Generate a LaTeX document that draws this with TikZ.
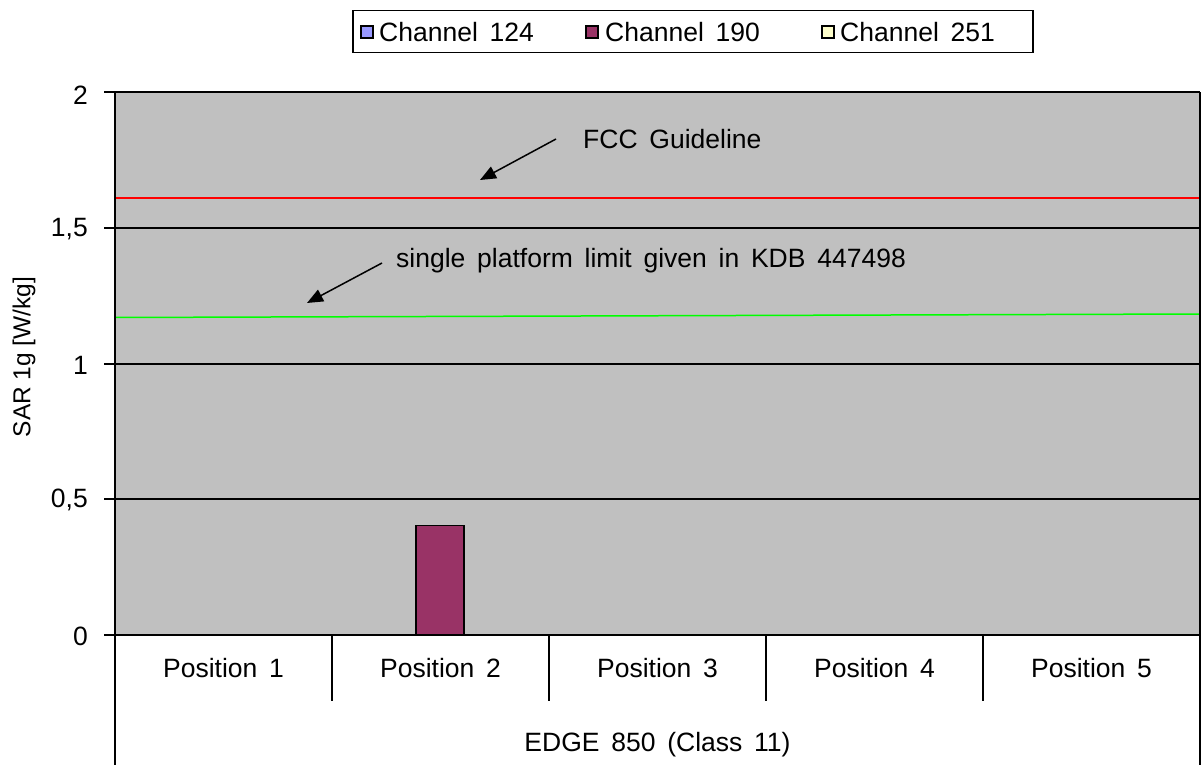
\documentclass[tikz,border=0pt]{standalone}
\usepackage{fontspec}
\setmainfont{Liberation Sans}[WordSpace=1.6]
\newfontfamily\ylabfont{Liberation Sans}
\usetikzlibrary{arrows.meta}
\definecolor{plotgray}{HTML}{C0C0C0}
\definecolor{chA}{HTML}{9999FF}
\definecolor{chB}{HTML}{993366}
\definecolor{chC}{HTML}{FFFFCC}
\tikzset{
  txt/.style={font=\fontsize{26.5}{31}\selectfont, inner sep=0pt},
  grid/.style={black, line width=1.5pt},
  legsq/.style={draw=black, line width=1.3pt, minimum size=12pt, inner sep=0pt},
  callout/.style={black, line width=1.5pt, -{Triangle[length=16pt,width=13pt]}},
  sep/.style={black, line width=1.5pt}
}
\begin{document}
\begin{tikzpicture}[x=1pt,y=-1pt]
\useasboundingbox (0,0) rectangle (1204,765);
% plot area
\fill[plotgray] (115,92) rectangle (1200,635);
% gridlines
\foreach \yy in {92,228,364,499,635} {\draw[grid] (104,\yy) -- (1200,\yy);}
% limit lines
\draw[red, line width=1.5pt] (115,198) -- (1200,198);
\draw[green, line width=1.5pt] (115,317.5) -- (1200,314);
% bar
\node[draw=black, fill=chB, line width=1.5pt, minimum width=48pt, minimum height=109pt, inner sep=0pt, anchor=south west] (bar) at (415,635) {};
% axes
\draw[black, line width=2.5pt] (115,92) -- (115,765);
\draw[black, line width=1.5pt] (1200,92) -- (1200,765);
\foreach \xx in {332,549,766,983} {\draw[sep] (\xx,635) -- (\xx,701);}
% tick labels
\node[txt, anchor=east] (t2) at (88,95) {2};
\node[txt, anchor=east] (t15) at (88,229) {1,5};
\node[txt, anchor=east] (t1) at (88,365) {1};
\node[txt, anchor=east] (t05) at (88,500) {0,5};
\node[txt, anchor=east] (t0) at (88,636) {0};
% y label
\node[font=\ylabfont\fontsize{24.5}{29}\selectfont, inner sep=0pt, rotate=90] (ylab) at (24,357) {SAR 1g [W/kg]};
% category labels
\node[txt] (p1) at (223.5,668) {Position 1};
\node[txt] (p2) at (440.5,668) {Position 2};
\node[txt] (p3) at (657.5,668) {Position 3};
\node[txt] (p4) at (874.5,668) {Position 4};
\node[txt] (p5) at (1091.5,668) {Position 5};
\node[txt] (grp) at (657.5,745) {EDGE 850 (Class 11)};
% annotations
\node[txt, anchor=west] (fcc) at (583,139) {FCC Guideline};
\node[txt, anchor=west] (kdb) at (396,261) {single platform limit given in KDB 447498};
\coordinate (fccs) at (556,139);
\coordinate (fcct) at (480,180);
\coordinate (kdbs) at (382,263);
\coordinate (kdbt) at (307,303);
\draw[callout] (fccs) -- (fcct);
\draw[callout] (kdbs) -- (kdbt);
% legend
\node[draw=black, line width=1.5pt, minimum width=680pt, minimum height=42pt, inner sep=0pt, anchor=north west] (legend) at (352,10) {};
\node[legsq, fill=chA] (s1) at (367,32) {};
\node[txt, anchor=west] (l1) at (379,32) {Channel 124};
\node[legsq, fill=chB] (s2) at (592,32) {};
\node[txt, anchor=west] (l2) at (605,32) {Channel 190};
\node[legsq, fill=chC] (s3) at (828,32) {};
\node[txt, anchor=west] (l3) at (840,32) {Channel 251};
\end{tikzpicture}
\end{document}
